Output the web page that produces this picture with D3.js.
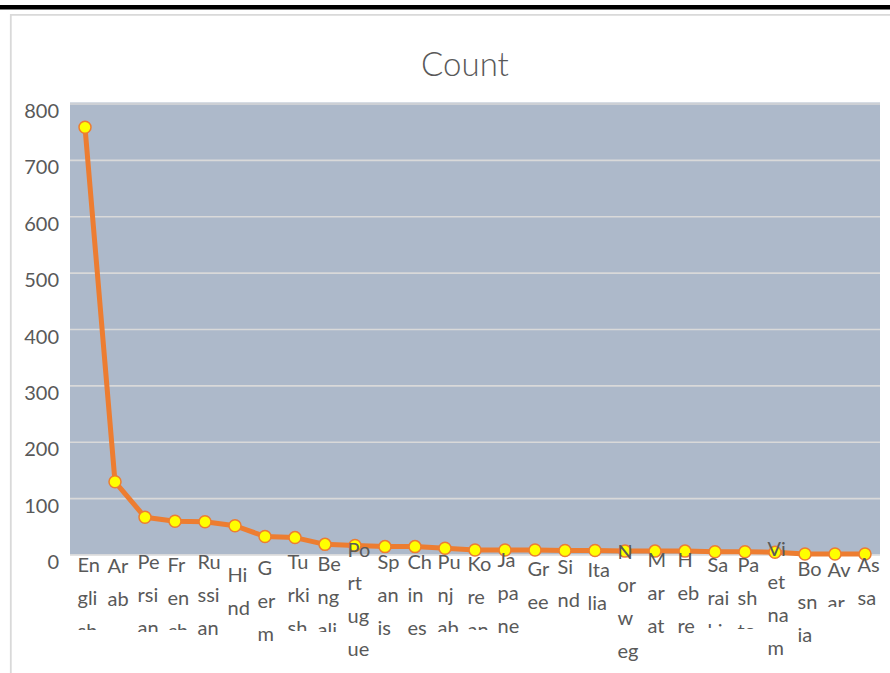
<!DOCTYPE html>
<html><head><meta charset="utf-8">
<script src="https://cdn.jsdelivr.net/npm/d3@7"></script>
<style>
html,body{margin:0;padding:0;background:#fff;}
svg{display:block;}
text{font-family:Lato,"Open Sans",sans-serif;fill:#595959;}
</style></head>
<body>
<svg id="chart" width="890" height="673"></svg>
<script>
// ---- data ----
const categories = ["English","Arabic","Persian","French","Russian","Hindi","German","Turkish","Bengali","Portuguese","Spanish","Chinese","Punjabi","Korean","Japanese","Greek","Sindhi","Italian","Norwegian","Marathi","Hebrew","Saraiki","Pashto","Vietnamese","Bosnian","Avar","Assamese"];
const counts = [758,129,66,59,58,51,32,30,18,16,14,14,11,8,8,8,7,7,6,6,6,5,5,4,1,1,1];
const yTicks = [0,100,200,300,400,500,600,700,800];
const tickLines = [
  ["En","gli","sh"],["Ar","ab"],["Pe","rsi","an"],["Fr","en","ch"],["Ru","ssi","an"],
  ["Hi","nd"],["G","er","m"],["Tu","rki","sh"],["Be","ng","ali"],["Po","rt","ug","ue"],
  ["Sp","an","is"],["Ch","in","es"],["Pu","nj","ab"],["Ko","re","an"],["Ja","pa","ne"],
  ["Gr","ee"],["Si","nd"],["Ita","lia"],["N","or","w","eg"],["M","ar","at"],
  ["H","eb","re"],["Sa","rai","ki"],["Pa","sh","to"],["Vi","et","na","m"],["Bo","sn","ia"],
  ["Av","ar"],["As","sa"]
];
const title = "Count";

// ---- layout (label placement imitating the original wrapped/clipped labels) ----
const tickShift = [17,18.5,14,17,14,27.5,20,14,16,2,14,14,14,16,12,21,19,22,4,12,12,17,17,1,21,22,17];
const tickClip  = [75.5,null,77.5,75.5,null,null,null,76.5,77.5,null,80.5,null,77.5,75.5,null,null,null,null,null,null,null,73.5,74.5,null,null,52.5,null];

const W = 890, H = 673;
const plot = {left:70, right:880, top:103.5, bottom:554.5};
const svg = d3.select("#chart");

// outer decorations
svg.append("rect").attr("x",0).attr("y",5).attr("width",W).attr("height",4.5).attr("fill","#000");
svg.append("path").attr("d",`M10.8,${H} V14.8 H${W}`).attr("fill","none").attr("stroke","#d9d9d9").attr("stroke-width",1.8);

// title
svg.append("text").attr("x",465).attr("y",76).attr("text-anchor","middle")
  .style("font-size","33px").style("font-weight",300).text(title);

const x = d3.scaleBand().domain(categories).range([plot.left, plot.right]).padding(0);
const y = d3.scaleLinear().domain([0,800]).range([plot.bottom, plot.top]);

// plot background
svg.append("rect").attr("x",plot.left).attr("y",plot.top-1).attr("width",plot.right-plot.left)
  .attr("height",plot.bottom-plot.top+1).attr("fill","#adb9ca");

// gridlines + y labels
const yAxis = svg.append("g").attr("transform",`translate(${plot.left},0)`)
  .call(d3.axisLeft(y).tickValues(yTicks).tickSize(-(plot.right-plot.left)).tickPadding(11));
yAxis.select(".domain").remove();
yAxis.selectAll(".tick line").attr("stroke","#d9d9d9").attr("stroke-width",1.6);
yAxis.selectAll(".tick text").attr("dy","0.7em").attr("y",0).style("font-size","20px").attr("fill","#595959");

// line + markers
const cx = c => x(c) + x.bandwidth()/2;
const line = d3.line().x((d,i)=>cx(categories[i])).y(d=>y(d));
svg.append("path").datum(counts).attr("d",line).attr("fill","none")
  .attr("stroke","#ed7d31").attr("stroke-width",5).attr("stroke-linejoin","round");
svg.append("g").selectAll("circle").data(counts).join("circle")
  .attr("cx",(d,i)=>cx(categories[i])).attr("cy",d=>y(d)).attr("r",6)
  .attr("fill","#ffff00").attr("stroke","#ed7d31").attr("stroke-width",1.5);

// x axis labels (drawn above the markers, as in the original)
const xAxis = svg.append("g").attr("transform",`translate(0,${plot.bottom})`)
  .call(d3.axisBottom(x).tickSize(0));
xAxis.select(".domain").remove();
xAxis.selectAll(".tick text").remove();
const defs = svg.append("defs");
xAxis.selectAll(".tick").each(function(d,i){
  const g = d3.select(this);
  const lx = -x.bandwidth()/2 + 7.5;
  if (tickClip[i] !== null) {
    defs.append("clipPath").attr("id","clip"+i)
      .append("rect").attr("x",-x.bandwidth()/2).attr("y",-20)
      .attr("width",x.bandwidth()+6).attr("height",tickClip[i]+20);
  }
  const t = g.append("text").attr("text-anchor","start").attr("x",lx)
    .attr("y",tickShift[i]).style("font-size","20px").attr("fill","#595959");
  if (tickClip[i] !== null) t.attr("clip-path",`url(#clip${i})`);
  tickLines[i].forEach((s,k)=>{
    t.append("tspan").attr("x",lx).attr("dy",k===0?0:33).text(s);
  });
});
</script>
</body></html>
